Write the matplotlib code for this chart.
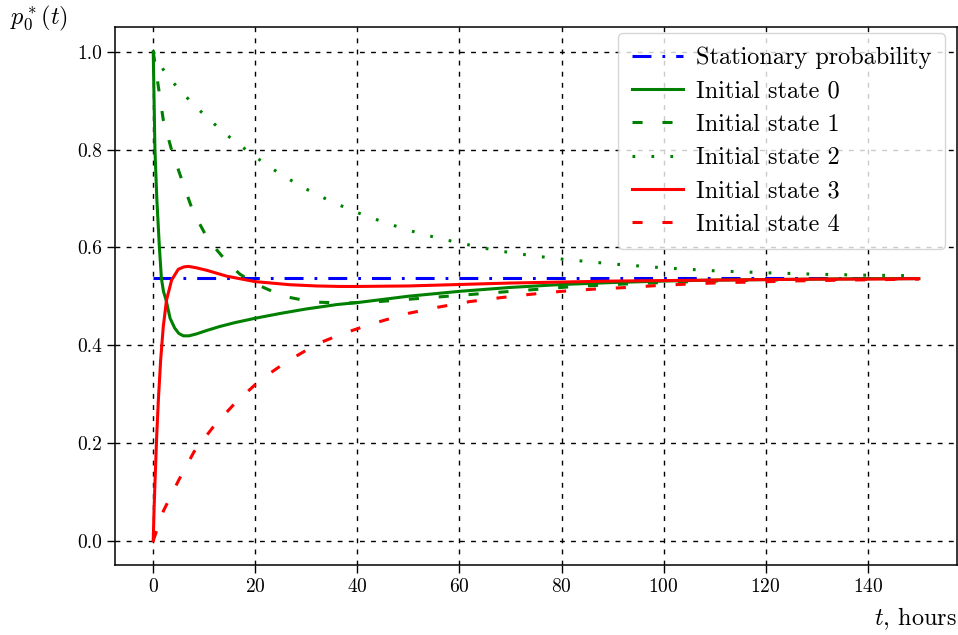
import matplotlib
matplotlib.use("Agg")
import matplotlib.pyplot as plt

plt.rcParams.update({
    "font.family": "serif",
    "font.serif": ["cmr10", "DejaVu Serif"],
    "mathtext.fontset": "cm",
    "axes.formatter.use_mathtext": True,
    "axes.unicode_minus": False,
})

# ---- data ----
stationary_t = [0, 150]
stationary_p = [0.537, 0.537]

s0_t = [0, 0.33, 0.7, 1.2, 1.6, 2.0, 2.5, 3.3, 4.2, 5.0, 5.9, 7, 8.5, 10.5, 13, 16, 20,
        25, 30, 36, 40, 50, 60, 70, 80, 90, 100, 110, 120, 130, 140, 150]
s0_p = [1.0, 0.80, 0.70, 0.601, 0.537, 0.51, 0.493, 0.455, 0.435, 0.424, 0.419, 0.419,
        0.423, 0.430, 0.438, 0.446, 0.455, 0.465, 0.474, 0.483, 0.487, 0.500, 0.510,
        0.518, 0.524, 0.528, 0.531, 0.533, 0.534, 0.535, 0.536, 0.536]

s1_t = [0, 1.0, 1.96, 3.6, 5.6, 7.8, 10.8, 14.7, 17, 20.3, 25.5, 31.4, 37.9, 44.1, 50.3,
        56.5, 62.7, 68.9, 75.1, 81.3, 90, 100, 110, 120, 130, 140, 150]
s1_p = [1.0, 0.929, 0.861, 0.799, 0.738, 0.673, 0.615, 0.567, 0.545, 0.524, 0.500, 0.488,
        0.486, 0.489, 0.494, 0.499, 0.504, 0.509, 0.514, 0.519, 0.524, 0.528, 0.531,
        0.533, 0.534, 0.535, 0.536]

s2_t = [0, 2, 4, 6, 8, 10, 12, 15, 20, 25, 30, 35, 40, 45, 50, 55, 60, 65, 70, 75, 80,
        90, 100, 110, 120, 130, 140, 150]
s2_p = [1.0, 0.963, 0.936, 0.913, 0.891, 0.871, 0.852, 0.825, 0.785, 0.749, 0.719, 0.693,
        0.671, 0.652, 0.635, 0.621, 0.609, 0.598, 0.589, 0.582, 0.576, 0.566, 0.558,
        0.552, 0.548, 0.545, 0.543, 0.542]

s3_t = [0, 0.15, 0.33, 0.67, 1.0, 1.45, 1.96, 2.6, 3.6, 4.9, 6.0, 6.9, 8.5, 10.5, 14.4,
        19.9, 26.8, 32, 36.6, 40, 50, 60, 70, 80, 90, 100, 110, 120, 130, 140, 150]
s3_p = [0.0, 0.06, 0.116, 0.212, 0.287, 0.369, 0.437, 0.492, 0.533, 0.555, 0.560, 0.561,
        0.558, 0.553, 0.541, 0.530, 0.5235, 0.521, 0.520, 0.520, 0.521, 0.524, 0.527,
        0.529, 0.531, 0.532, 0.533, 0.534, 0.535, 0.535, 0.536]

s4_t = [0, 2, 5, 8, 12, 16, 21, 26, 32, 37, 43, 50, 56, 62, 68, 74, 80, 87, 93, 99, 105,
        112, 118, 124, 130, 136, 143, 150]
s4_p = [0.0, 0.061, 0.124, 0.182, 0.236, 0.281, 0.329, 0.365, 0.402, 0.423, 0.444, 0.465,
        0.478, 0.489, 0.497, 0.504, 0.510, 0.515, 0.518, 0.522, 0.525, 0.528, 0.529,
        0.531, 0.532, 0.533, 0.534, 0.535]

labels = ["Stationary probability", "Initial state 0", "Initial state 1",
          "Initial state 2", "Initial state 3", "Initial state 4"]

xticks = [0, 20, 40, 60, 80, 100, 120, 140]
yticks = [0.0, 0.2, 0.4, 0.6, 0.8, 1.0]

# ---- figure ----
fig = plt.figure(figsize=(9.58, 6.35), dpi=100)
ax = fig.add_axes([0.120, 0.110, 0.879, 0.847])

lw = 2.2
dashdot = (0, (6.2, 3.6, 0.9, 3.6))
dashed = (0, (3.3, 6.5))
dotted = (0, (0.9, 5.3))

ax.plot(stationary_t, stationary_p, color="b", lw=lw, ls=dashdot, label=labels[0])
ax.plot(s0_t, s0_p, color="g", lw=lw, ls="-", label=labels[1])
ax.plot(s1_t, s1_p, color="g", lw=lw, ls=dashed, label=labels[2])
ax.plot(s2_t, s2_p, color="g", lw=lw, ls=dotted, label=labels[3])
ax.plot(s3_t, s3_p, color="r", lw=lw, ls="-", label=labels[4])
ax.plot(s4_t, s4_p, color="r", lw=lw, ls=dashed, label=labels[5])

ax.set_xlim(-7.5, 157.5)
ax.set_ylim(-0.05, 1.05)
ax.set_xticks(xticks)
ax.set_yticks(yticks)
ax.set_yticklabels([f"{v:.1f}" for v in yticks])

ax.grid(True, color="black", lw=1.0, ls=(0, (3.5, 4.5)))
for sp in ax.spines.values():
    sp.set_linewidth(1.1)
ax.tick_params(direction="out", length=5.5, width=1.0, labelsize=14)

ax.set_xlabel("$t$, hours", loc="right", fontsize=17.5, labelpad=7)
ax.set_ylabel("$p_0^*(t)$", rotation=0, fontsize=17.5, ha="center", va="center")
ax.yaxis.set_label_coords(-0.09, 1.017)

leg = ax.legend(loc="upper right", bbox_to_anchor=(0.9857, 0.9888), borderaxespad=0,
                fontsize=17.5, handlelength=2.1, handletextpad=0.55, framealpha=0.8,
                labelspacing=0.46, borderpad=0.55)

fig.savefig("out.png", dpi=100)
